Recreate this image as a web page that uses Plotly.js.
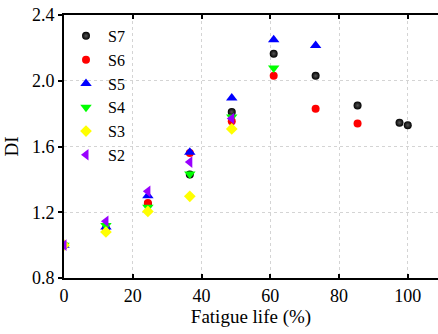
<!DOCTYPE html>
<html>
<head>
<meta charset="utf-8">
<script src="https://cdn.plot.ly/plotly-3.0.1.min.js"></script>
<style>html,body{margin:0;padding:0;background:#fff;}#chart{width:438px;height:334px;}</style>
</head>
<body>
<div id="chart"></div>
<script>
// Fatigue life (%) positions
const xLife = [0, 12.2, 24.4, 36.6, 48.8, 61, 73.2, 85.4, 97.6, 100];

// DI values per specimen
const s7 = [1.00, 1.10, 1.25, 1.43, 1.81, 2.165, 2.03, 1.85, 1.745, 1.73];
const s6 = [1.00, 1.10, 1.256, 1.56, 1.753, 2.03, 1.83, 1.74];
const s5 = [1.00, 1.11, 1.30, 1.565, 1.895, 2.25, 2.215];
const s4 = [1.00, 1.12, 1.23, 1.433, 1.78, 2.078];
const s3 = [1.00, 1.08, 1.205, 1.297, 1.707];
const s2 = [1.00, 1.145, 1.327, 1.505, 1.77];

const names = ['S7', 'S6', 'S5', 'S4', 'S3', 'S2'];
const series = [s7, s6, s5, s4, s3, s2];
const colors = ['#000000', '#ff0000', '#0000ff', '#00ff00', '#ffff00', '#9900ff'];
const symbols = ['circle', 'circle', 'triangle-up', 'triangle-down', 'diamond', 'triangle-left'];
const sizes = [8, 8, 10, 10, 9, 10];

const traces = series.map((ys, i) => {
  const m = {color: colors[i], symbol: symbols[i], size: sizes[i], line: {width: 0}};
  if (i === 0) m.gradient = {type: 'radial', color: '#555555'};
  return {
    x: xLife.slice(0, ys.length),
    y: ys,
    name: names[i],
    type: 'scatter',
    mode: 'markers',
    marker: m
  };
});

const fam = 'Liberation Serif, Times New Roman, serif';
const font = {family: fam, color: '#000'};

const layout = {
  width: 438, height: 334,
  margin: {l: 64, r: 0, t: 15, b: 56},
  paper_bgcolor: '#fff', plot_bgcolor: '#fff',
  font: Object.assign({size: 17}, font),
  showlegend: true,
  legend: {
    x: 0.0, y: 0.985, xanchor: 'left', yanchor: 'top',
    font: Object.assign({size: 16}, font),
    bgcolor: 'rgba(0,0,0,0)', itemwidth: 34, traceorder: 'normal',
    tracegroupgap: 0
  },
  xaxis: {
    range: [0, 108.8],
    tickvals: [0, 20, 40, 60, 80, 100],
    ticktext: ['0', '20', '40', '60', '80', '100'],
    ticks: 'inside', ticklen: 4, tickwidth: 2, tickcolor: '#000',
    showline: true, linewidth: 2, linecolor: '#000', mirror: 'ticks',
    showgrid: true, gridcolor: '#d4d4d4', gridwidth: 1, griddash: 'dot',
    zeroline: false,
    tickfont: Object.assign({size: 18}, font),
    title: {text: 'Fatigue life (%)', font: Object.assign({size: 19}, font), standoff: 1}
  },
  yaxis: {
    range: [0.8, 2.4],
    tickvals: [0.8, 1.2, 1.6, 2.0, 2.4],
    ticktext: ['0.8', '1.2', '1.6', '2.0', '2.4'],
    ticks: 'outside', ticklen: 4, tickwidth: 2, tickcolor: '#000',
    showline: true, linewidth: 2, linecolor: '#000', mirror: false,
    showgrid: true, gridcolor: '#d4d4d4', gridwidth: 1, griddash: 'dot',
    zeroline: false,
    tickfont: Object.assign({size: 18}, font),
    title: {text: 'DI', font: Object.assign({size: 19}, font), standoff: 8}
  }
};

Plotly.newPlot('chart', traces, layout, {displayModeBar: false, staticPlot: true});
</script>
</body>
</html>
